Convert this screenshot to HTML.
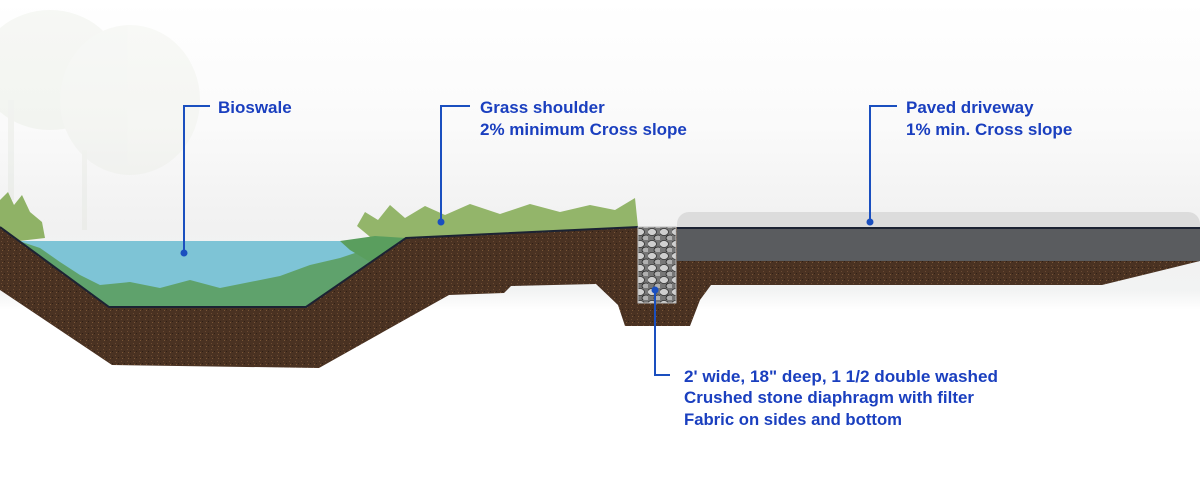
<!DOCTYPE html>
<html><head><meta charset="utf-8"><style>
html,body{margin:0;padding:0;background:#fff}
svg{display:block}
text{font-family:"Liberation Sans",sans-serif;font-weight:bold;fill:#1a3fbf;font-size:17px}
</style></head><body>
<svg width="1200" height="500" viewBox="0 0 1200 500" xmlns="http://www.w3.org/2000/svg">
<defs>
<linearGradient id="bg" x1="0" y1="0" x2="0" y2="1">
<stop offset="0" stop-color="#ffffff"/><stop offset="0.25" stop-color="#fafafa"/><stop offset="0.45" stop-color="#f1f1f1"/><stop offset="0.58" stop-color="#f2f3f3"/><stop offset="0.62" stop-color="#ffffff"/><stop offset="1" stop-color="#ffffff"/>
</linearGradient>
<pattern id="soil" width="6" height="6" patternUnits="userSpaceOnUse">
<rect width="6" height="6" fill="#4a3222"/><rect x="1" y="1" width="1" height="1" fill="#6b4a33"/><rect x="4" y="3" width="1" height="1" fill="#2f1f15"/><rect x="2" y="4" width="1" height="1" fill="#7a5738"/>
</pattern>
<pattern id="stone" width="12" height="12" patternUnits="userSpaceOnUse">
<rect width="12" height="12" fill="#777"/><ellipse cx="4" cy="4" rx="4.5" ry="3.5" fill="#cfcfcf" stroke="#333" stroke-width="0.8"/><ellipse cx="10" cy="10" rx="4" ry="3" fill="#b0b0b0" stroke="#222" stroke-width="0.8"/>
</pattern>
</defs>
<rect width="1200" height="500" fill="url(#bg)"/>
<!-- faint trees -->
<g opacity="0.18">
<ellipse cx="50" cy="70" rx="70" ry="60" fill="#d3dcc8"/>
<ellipse cx="130" cy="100" rx="70" ry="75" fill="#dbe1d2"/>
<rect x="8" y="100" width="6" height="100" fill="#c9d2c2"/>
<rect x="82" y="150" width="5" height="80" fill="#d2d8ca"/>
</g>
<!-- soil -->
<path d="M0,227 L109,307 L306,307 L406,238 L638,227 L1200,227 L1200,261 L1102,285 L711,285 L700,300 L690,326 L625,326 L618,305 L596,284 L511,286 L504,293 L449,295 L319,368 L112,365 L0,290 Z" fill="url(#soil)"/>
<!-- water -->
<path d="M19,241 L402,241 L306,307 L109,307 Z" fill="#7ec4d6"/>
<!-- underwater grass -->
<path d="M19,241 L40,248 L60,262 L80,275 L100,285 L130,282 L160,288 L190,280 L220,288 L250,282 L280,276 L310,265 L340,258 L370,248 L402,241 L306,307 L109,307 Z" fill="#5c9f60" opacity="0.9"/>
<!-- grass -->
<path d="M0,200 L8,192 L14,205 L22,195 L30,212 L42,222 L45,238 L19,241 L0,227 Z" fill="#8fb266"/>
<path d="M357,226 L365,212 L378,220 L390,205 L405,218 L425,206 L445,215 L470,204 L500,214 L530,204 L560,212 L590,205 L615,210 L635,198 L638,227 L406,238 L375,241 Z" fill="#93b56a"/>
<path d="M340,241 L375,236 L406,238 L370,262 L350,250 Z" fill="#5a9e5e"/>
<!-- surface line -->
<path d="M0,227 L109,307 L306,307 L406,238 L638,227" fill="none" stroke="#1c2333" stroke-width="2"/>
<!-- stone -->
<rect x="638" y="227" width="38" height="76" fill="url(#stone)" stroke="#bbb" stroke-width="1"/>
<!-- pavement -->
<rect x="677" y="212" width="523" height="40" rx="12" fill="#dcdcdc"/>
<rect x="677" y="227" width="523" height="34" fill="#5a5c5f"/>
<line x1="677" y1="228" x2="1200" y2="228" stroke="#1c2333" stroke-width="2"/>
<!-- callouts -->
<g stroke="#1a4fbf" stroke-width="2" fill="none">
<path d="M210,106 H184 V253"/>
<path d="M470,106 H441 V222"/>
<path d="M897,106 H870 V222"/>
<path d="M655,290 V375 H670"/>
</g>
<g fill="#1a4fbf">
<circle cx="184" cy="253" r="3.5"/><circle cx="441" cy="222" r="3.5"/><circle cx="870" cy="222" r="3.5"/><circle cx="655" cy="290" r="3.5"/>
</g>
<text x="218" y="113">Bioswale</text>
<text x="480" y="113">Grass shoulder</text>
<text x="480" y="135">2% minimum Cross slope</text>
<text x="906" y="113">Paved driveway</text>
<text x="906" y="135">1% min. Cross slope</text>
<text x="684" y="382" textLength="314" lengthAdjust="spacingAndGlyphs">2' wide, 18" deep, 1 1/2 double washed</text>
<text x="684" y="403" textLength="290" lengthAdjust="spacingAndGlyphs">Crushed stone diaphragm with filter</text>
<text x="684" y="425" textLength="218" lengthAdjust="spacingAndGlyphs">Fabric on sides and bottom</text>
</svg>
</body></html>
